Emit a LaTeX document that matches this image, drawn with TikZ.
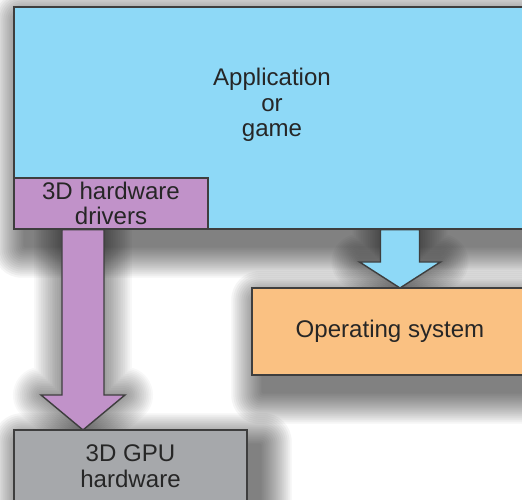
\documentclass[tikz,border=0pt]{standalone}
\usepackage{fontspec}
\setmainfont{Liberation Sans}
\usetikzlibrary{calc, backgrounds}
\definecolor{appblue}{RGB}{142,217,247}
\definecolor{drvpurple}{RGB}{193,146,201}
\definecolor{osorange}{RGB}{250,193,130}
\definecolor{gpugray}{RGB}{166,168,171}
\definecolor{edgegray}{RGB}{62,62,62}
\tikzset{
  layerbox/.style={
    rectangle, draw=edgegray, line width=0.8pt, inner sep=0pt,
    align=center, text=black!85, font=\fontsize{13.7}{14.6}\selectfont
  },
  flowarrow/.style={draw=edgegray, line width=0.8pt, line join=miter},
  shadowstep/.style={black, opacity=0.04}
}
% soft shadow behind a node, built from stacked translucent rectangles
\newcommand{\softshadow}[1]{
  \begin{pgfonlayer}{background}
    \foreach \s in {1,...,16}
      \fill[shadowstep, rounded corners=\s*1pt]
        ($(#1.south west)+(12-2*\s,-16-2*\s)$) rectangle ($(#1.north east)+(12+2*\s,-16+2*\s)$);
  \end{pgfonlayer}
}
% block arrow pointing down: style, top, tip, half shaft, half head, head length
\newcommand{\downblock}[6]{
  \begin{pgfonlayer}{background}
    \foreach \s in {1,...,16}
      \draw[shadowstep, opacity=0.028, line width=\s*0.07cm, line join=round, shift={(12,-16)}]
        ($(#2)+(-#4,0)$) -- ($(#3)+(-#4,#6)$) -- ($(#3)+(-#5,#6)$) -- (#3)
        -- ($(#3)+(#5,#6)$) -- ($(#3)+(#4,#6)$) -- ($(#2)+(#4,0)$) -- cycle;
  \end{pgfonlayer}
  \draw[#1] ($(#2)+(-#4,0)$) -- ($(#3)+(-#4,#6)$) -- ($(#3)+(-#5,#6)$) -- (#3)
    -- ($(#3)+(#5,#6)$) -- ($(#3)+(#4,#6)$) -- ($(#2)+(#4,0)$) -- cycle;
}

\begin{document}
\begin{tikzpicture}[x=0.02cm, y=0.02cm]
    \useasboundingbox (0,0) rectangle (522,-500);
    \begin{pgfonlayer}{background}
      \fill[white] (0,0) rectangle (522,-500);
    \end{pgfonlayer}

    \node[layerbox, fill=appblue, minimum width=10.32cm, minimum height=4.44cm,
        label={[yshift=0.26cm, align=center, text=black!85,
          font=\fontsize{13.7}{14.6}\selectfont]center:Application\\or\\game}]
        (app) at (272,-118) {};
    \softshadow{app}
    \node[layerbox, fill=drvpurple, minimum width=3.88cm, minimum height=1.02cm]
        (drivers) at (111,-203.5) {3D hardware\\drivers};

    % positions of the two arrow tips
    \coordinate (gputip) at (83,-430);
    \coordinate (ostip) at (400,-288);
    \downblock{flowarrow, fill=drvpurple}{gputip |- drivers.south}{gputip}{21}{42}{35}
    \downblock{flowarrow, fill=appblue}{ostip |- app.south}{ostip}{19.5}{40.5}{26}

    \node[layerbox, fill=osorange, minimum width=5.52cm, minimum height=1.74cm]
        (os) at (390,-331.5) {Operating system};
    \softshadow{os}
    \node[layerbox, fill=gpugray, minimum width=4.66cm, minimum height=1.44cm]
        (gpu) at (130.5,-466) {3D GPU\\hardware};
    \softshadow{gpu}
\end{tikzpicture}
\end{document}
